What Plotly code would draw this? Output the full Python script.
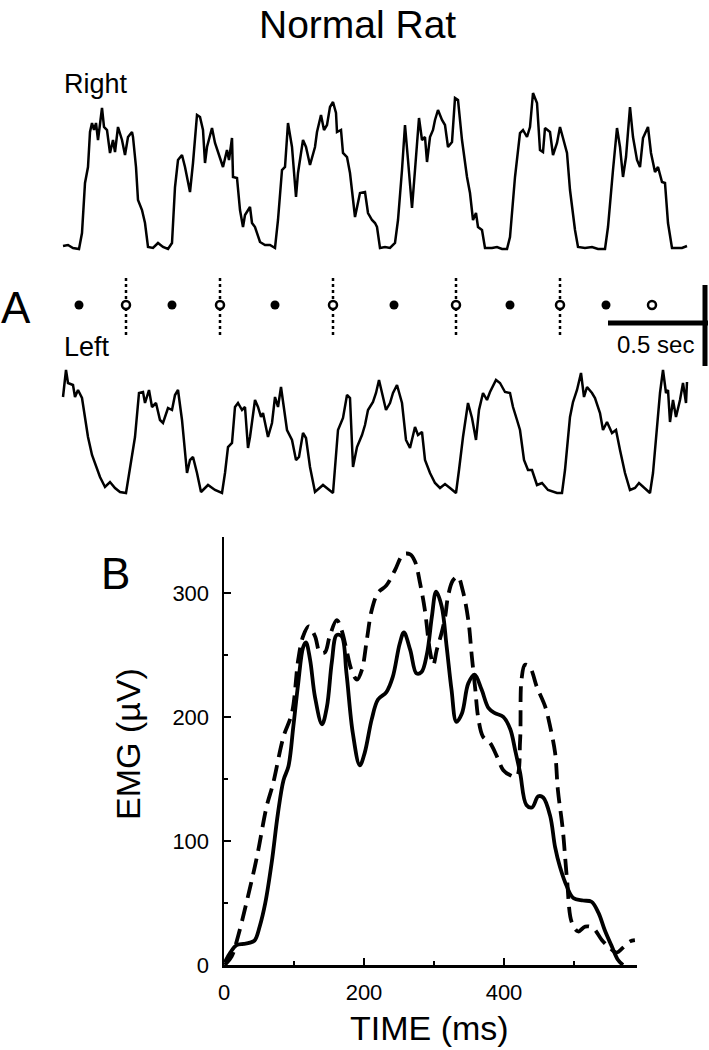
import plotly.graph_objects as go

# ---------------- Panel A data (time in ms, amplitude in a.u.) ----------------
right_t = [0, 25, 50, 80, 95, 110, 125, 135, 145, 155, 165, 175, 195, 205, 220, 235, 250, 260, 275, 295,
           310, 325, 345, 350, 365, 375, 395, 410, 425, 450, 475, 500, 525, 545, 560, 575, 595, 610, 635, 650,
           670, 685, 700, 710, 720, 745, 760, 785, 800, 820, 830, 845, 850, 870, 885, 900, 910, 935, 945, 960,
           985, 1010, 1035, 1060, 1075, 1095, 1110, 1125, 1145, 1165, 1175, 1200, 1215, 1235, 1260, 1270, 1290,
           1305, 1320, 1335, 1350, 1365, 1370, 1390, 1400, 1420, 1435, 1460, 1485, 1510, 1525, 1545, 1560, 1570,
           1585, 1610, 1635, 1660, 1675, 1695, 1710, 1725, 1745, 1760, 1780, 1795, 1810, 1820, 1835, 1850, 1860,
           1875, 1895, 1910, 1925, 1945, 1960, 1975, 1995, 2020, 2035, 2050, 2065, 2075, 2095, 2110, 2145, 2170,
           2195, 2220, 2235, 2260, 2285, 2300, 2320, 2335, 2350, 2370, 2385, 2400, 2410, 2435, 2450, 2470, 2485,
           2500, 2520, 2535, 2560, 2575, 2610, 2645, 2675, 2710, 2725, 2750, 2770, 2785, 2800, 2815, 2835, 2850,
           2870, 2885, 2900, 2925, 2940, 2960, 2975, 2995, 3010, 3025, 3045, 3070, 3095, 3120]
right_a = [3, 4, 1, 0, 16, 66, 82, 117, 126, 119, 126, 109, 141, 122, 119, 96, 109, 97, 122, 109,
           94, 112, 117, 112, 82, 49, 39, 26, 2, 1, 6, 2, 0, 6, 62, 89, 94, 82, 57, 86,
           134, 132, 119, 86, 102, 121, 106, 92, 82, 99, 89, 111, 72, 71, 39, 22, 34, 42, 26, 22,
           7, 4, 4, 1, 29, 79, 82, 126, 102, 52, 76, 109, 102, 84, 102, 117, 134,
           119, 124, 142, 147, 136, 117, 119, 96, 92, 76, 32, 56, 57, 36, 29, 26, 22,
           1, 2, 1, 6, 29, 79, 124, 89, 41, 79, 131, 109, 112, 87, 112, 119, 129,
           139, 129, 124, 102, 107, 151, 149, 109, 72, 56, 29, 36, 22, 19, 1, 1, 2,
           0, 0, 12, 72, 116, 119, 112, 122, 156, 146, 99, 97, 121, 117, 94, 106, 122,
           111, 96, 59, 19, 2, 1, 2, 0, 0, 22, 79, 121, 102, 72, 92, 142, 112,
           89, 82, 111, 122, 96, 77, 82, 67, 66, 26, 1, 1, 1, 3]

left_t = [0, 15, 25, 50, 60, 75, 95, 110, 125, 145, 170, 185, 210, 235, 260, 285, 315, 335, 360, 380,
          400, 410, 430, 445, 465, 485, 500, 525, 545, 560, 575, 595, 620, 635, 650, 670, 690, 725, 760, 795,
          810, 825, 845, 860, 875, 895, 910, 925, 935, 960, 975, 990, 1000, 1025, 1045, 1060, 1075, 1090, 1100,
          1120, 1145, 1165, 1180, 1200, 1215, 1235, 1260, 1300, 1350, 1375, 1400, 1420, 1435, 1450, 1470, 1495,
          1510, 1525, 1550, 1565, 1580, 1595, 1615, 1635, 1650, 1670, 1695, 1715, 1735, 1760, 1775, 1795, 1810,
          1835, 1860, 1885, 1910, 1935, 1965, 1980, 2000, 2025, 2045, 2065, 2080, 2100, 2120, 2135, 2165, 2185,
          2210, 2235, 2250, 2270, 2285, 2305, 2325, 2345, 2370, 2395, 2425, 2470, 2495, 2510, 2535, 2550, 2570,
          2590, 2605, 2620, 2645, 2660, 2685, 2700, 2720, 2745, 2765, 2785, 2810, 2835, 2860, 2880, 2910, 2935,
          2950, 2970, 2985, 3000, 3015, 3025, 3035, 3050, 3065, 3085, 3100, 3115, 3120]
left_a = [97, 124, 111, 109, 97, 104, 96, 77, 57, 39, 26, 17, 7, 12, 6, 2, 1, 27, 57, 101,
          102, 91, 104, 87, 91, 74, 71, 86, 84, 99, 104, 74, 21, 34, 37, 21, 2, 9, 4, 1,
          21, 47, 51, 87, 91, 84, 87, 46, 57, 94, 87, 77, 81, 57, 71, 97, 87, 107, 94,
          64, 54, 34, 37, 61, 56, 27, 2, 9, 1, 64, 76, 99, 96, 27, 47, 59,
          69, 84, 92, 101, 114, 102, 84, 91, 101, 109, 91, 54, 46, 67, 59, 62, 34,
          21, 11, 6, 10, 6, 1, 24, 57, 91, 76, 54, 84, 101, 94, 102, 114, 111,
          102, 101, 87, 74, 64, 34, 24, 24, 9, 11, 4, 1, 1, 24, 77, 92, 104,
          121, 97, 107, 101, 96, 81, 64, 72, 61, 64, 44, 21, 4, 6, 11, 6, 1,
          21, 64, 101, 124, 101, 104, 72, 94, 77, 94, 111, 91, 112]

# step markers (ms): filled = right-limb onset, open = left-limb onset
filled_dot_t = [80, 545, 1060, 1655, 2235, 2715]
open_dot_t = [315, 785, 1350, 1965, 2485, 2945]
open_dot_lines_t = [315, 785, 1350, 1965, 2485]
scale_bar_ms = 500
scale_bar_start = 2725

# ---------------- Panel B data ----------------
solid_t = [1, 9, 18, 28, 37, 44, 51, 59, 68, 77, 85, 92, 99, 106, 113, 117, 123, 130, 140, 147,
           154, 161, 168, 175, 184, 194, 201, 211, 220, 232, 241, 251, 257, 266, 275, 282, 290, 297,
           303, 311, 318, 325, 332, 340, 349, 358, 368, 378, 387, 399, 409, 416, 423, 432, 440, 449,
           456, 466, 473, 480, 490, 499, 513, 525, 535, 544, 554, 563, 570]
solid_v = [2, 10, 16, 17, 18, 20, 31, 50, 82, 122, 149, 160, 192, 227, 256, 260, 246, 216, 194, 208,
           244, 266, 265, 235, 187, 161, 171, 198, 214, 220, 232, 259, 268, 254, 235, 236, 251, 281,
           301, 289, 257, 222, 196, 203, 227, 234, 222, 207, 203, 200, 190, 173, 155, 129, 127, 136,
           135, 120, 95, 79, 63, 54, 52, 51, 42, 28, 15, 4, 0]

dashed_t = [1, 11, 20, 32, 47, 61, 70, 85, 97, 106, 113, 121, 130, 137, 144, 151, 161, 168, 175, 182,
            190, 197, 204, 211, 220, 232, 244, 256, 266, 273, 280, 287, 294, 299, 304, 311, 316, 320,
            327, 334, 341, 349, 354, 359, 363, 370, 380, 390, 399, 409, 418, 423, 425, 430, 437, 447,
            459, 466, 473, 477, 484, 490, 497, 506, 516, 527, 540, 551, 561, 570, 580, 587]
dashed_v = [0, 7, 23, 50, 87, 128, 146, 184, 203, 246, 265, 273, 265, 252, 252, 265, 278, 270, 254, 238,
            230, 238, 262, 286, 300, 306, 318, 331, 331, 325, 308, 286, 254, 242, 254, 268, 281, 297,
            310, 313, 302, 278, 249, 222, 200, 184, 179, 168, 157, 153, 152, 181, 230, 242, 240, 224,
            208, 192, 171, 141, 109, 69, 34, 27, 31, 30, 20, 14, 10, 14, 19, 20]

FONT = "Liberation Sans, Arial, Helvetica, sans-serif"
W, H = 709, 1050


def py(p):  # page pixel row -> paper y
    return 1 - p / H


def px(p):
    return p / W


fig = go.Figure()

# Panel A traces
fig.add_trace(go.Scatter(x=right_t, y=right_a, mode="lines", line=dict(color="black", width=2.5),
                         xaxis="x", yaxis="y", hoverinfo="skip"))
fig.add_trace(go.Scatter(x=left_t, y=left_a, mode="lines", line=dict(color="black", width=2.5),
                         xaxis="x", yaxis="y3", hoverinfo="skip"))

# dotted vertical lines at left-limb onsets
for t in open_dot_lines_t:
    fig.add_trace(go.Scatter(x=[t, t], y=[-0.86, 0.77], mode="lines",
                             line=dict(color="black", width=2.5, dash="dot"),
                             xaxis="x", yaxis="y4", hoverinfo="skip"))
fig.add_trace(go.Scatter(x=filled_dot_t, y=[0] * len(filled_dot_t), mode="markers",
                         marker=dict(symbol="circle", size=9, color="black"),
                         xaxis="x", yaxis="y4", hoverinfo="skip"))
fig.add_trace(go.Scatter(x=open_dot_t, y=[0] * len(open_dot_t), mode="markers",
                         marker=dict(symbol="circle", size=8, color="white",
                                     line=dict(color="black", width=2.5)),
                         xaxis="x", yaxis="y4", hoverinfo="skip"))

# Panel B traces
fig.add_trace(go.Scatter(x=dashed_t, y=dashed_v, mode="lines", line_shape="spline",
                         line=dict(color="black", width=3.8, dash="16px,8px"),
                         xaxis="x2", yaxis="y2", hoverinfo="skip", cliponaxis=False))
fig.add_trace(go.Scatter(x=solid_t, y=solid_v, mode="lines", line_shape="spline",
                         line=dict(color="black", width=3.8),
                         xaxis="x2", yaxis="y2", hoverinfo="skip", cliponaxis=False))

# scale bars
fig.add_shape(type="line", xref="x", yref="paper", x0=scale_bar_start, x1=scale_bar_start + scale_bar_ms,
              y0=py(323), y1=py(323), line=dict(color="black", width=5))
fig.add_shape(type="line", xref="paper", yref="paper", x0=px(705), x1=px(705),
              y0=py(285), y1=py(366), line=dict(color="black", width=5))

hidden = dict(visible=False, showgrid=False, zeroline=False, fixedrange=True, automargin=False)

fig.update_layout(
    template="none",
    width=W, height=H, autosize=False,
    margin=dict(l=0, r=0, t=0, b=0, pad=0, autoexpand=False),
    paper_bgcolor="white", plot_bgcolor="white",
    showlegend=False,
    font=dict(family=FONT, color="black"),
    xaxis=dict(domain=[0, 1], range=[-315, 3230], anchor="y", **hidden),
    yaxis=dict(domain=[py(260), py(60)], range=[-11, 189], anchor="x", **hidden),
    yaxis3=dict(domain=[py(500), py(360)], range=[-6, 134], anchor="x", **hidden),
    yaxis4=dict(domain=[py(340), py(270)], range=[-1, 1], anchor="x", **hidden),
    xaxis2=dict(domain=[px(224), px(637)], range=[0, 590], anchor="y2", automargin=False,
                showline=True, linecolor="black", linewidth=2.5, showgrid=False, zeroline=False,
                ticks="inside", ticklen=7, tickwidth=2.5, tickcolor="black",
                tickvals=[0, 200, 400], ticktext=["0", "200", "400"],
                minor=dict(ticks="inside", ticklen=4, tickwidth=2.5, tickcolor="black",
                           tickvals=[100, 300, 500], showgrid=False),
                tickfont=dict(size=22, family=FONT, color="black"), ticklabelstandoff=6),
    yaxis2=dict(domain=[py(965), py(537)], range=[0, 345], anchor="x2", automargin=False,
                showline=True, linecolor="black", linewidth=2.5, showgrid=False, zeroline=False,
                ticks="inside", ticklen=7, tickwidth=2.5, tickcolor="black",
                tickvals=[0, 100, 200, 300], ticktext=["0", "100", "200", "300"],
                minor=dict(ticks="inside", ticklen=4, tickwidth=2.5, tickcolor="black",
                           tickvals=[50, 150, 250], showgrid=False),
                tickfont=dict(size=22, family=FONT, color="black"), ticklabelstandoff=8),
)


def label(text, x, y, size, xanchor="center", angle=0):
    fig.add_annotation(text=text, x=px(x), y=py(y), xref="paper", yref="paper",
                       xanchor=xanchor, yanchor="middle", showarrow=False, textangle=angle,
                       font=dict(size=size, family=FONT, color="black"))


label("Normal Rat", 357, 24, 39)
label("Right", 62, 84, 27, xanchor="left")
label("Left", 62, 347, 27, xanchor="left")
label("A", -1, 307, 44, xanchor="left")
label("0.5 sec", 655, 344, 24)
label("B", 115, 573, 44)
label("EMG (µV)", 128, 744, 34, angle=-90)
label("TIME (ms)", 430, 1028, 34)

fig.write_html("out.html", config={"displayModeBar": False, "staticPlot": True},
               post_script="document.body.style.margin='0px';document.body.style.padding='0px';"
                           "document.body.style.overflow='hidden';")
